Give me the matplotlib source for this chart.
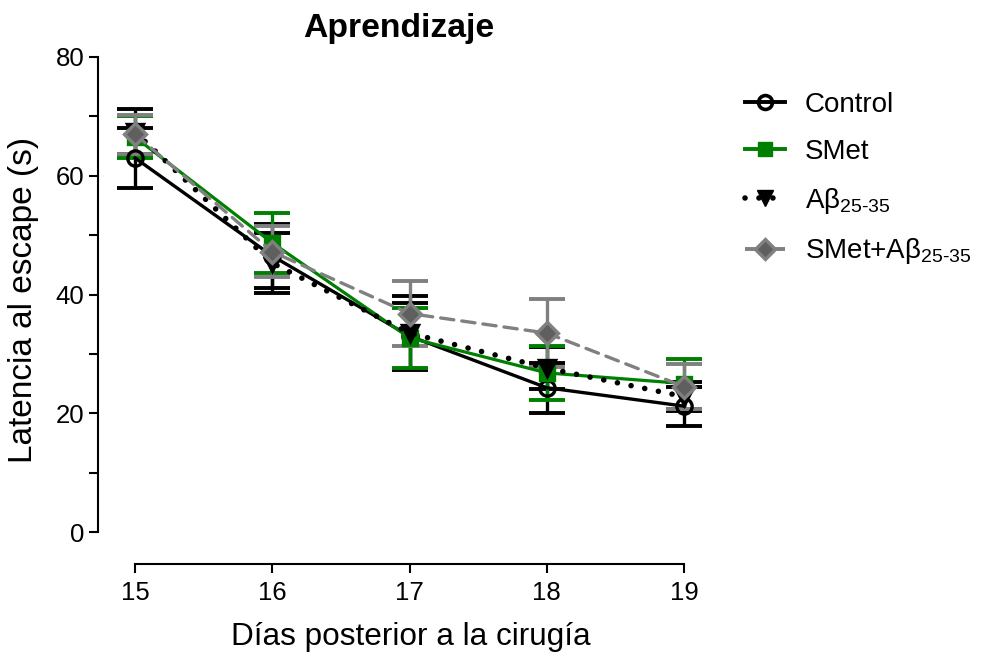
import matplotlib
matplotlib.use("Agg")
import matplotlib.pyplot as plt
from matplotlib.lines import Line2D
import numpy as np

plt.rcParams['font.family'] = ['Liberation Sans', 'DejaVu Sans']
plt.rcParams['mathtext.fontset'] = 'custom'
plt.rcParams['mathtext.rm'] = 'Liberation Sans'
plt.rcParams['mathtext.it'] = 'Liberation Sans'

# datos (media y EEM)
dias = [15, 16, 17, 18, 19]
control = [63.0, 46.5, 33.0, 24.3, 21.2]
control_err = [5.0, 5.4, 5.5, 4.2, 3.3]
smet = [66.5, 48.7, 32.7, 26.8, 25.0]
smet_err = [3.5, 5.1, 5.0, 4.5, 4.2]
abeta = [67.4, 45.3, 33.5, 27.6, 22.8]
abeta_err = [3.8, 5.0, 6.2, 3.5, 2.5]
smet_abeta = [67.0, 47.2, 36.8, 33.5, 24.5]
smet_abeta_err = [3.3, 4.3, 5.4, 5.7, 3.8]

etiquetas = ['Control', 'SMet', r'A$\mathrm{\beta}_{\mathrm{25\text{-}35}}$',
             r'SMet+A$\mathrm{\beta}_{\mathrm{25\text{-}35}}$']

verde = '#008000'
gris = '#808080'
gris_osc = '#5f5f5f'

fig = plt.figure(figsize=(9.82, 6.53), dpi=100)
ax = fig.add_axes([135/982, 1-532/653, 549/982, 475/653])

def serie(y, err, color, marker, ms, mfc, mec, lw, z_err, z, dashes=None):
    ax.errorbar(dias, y, yerr=err, fmt='none', ecolor=color, elinewidth=2.4,
                capsize=13, capthick=2.8, zorder=z_err, clip_on=False)
    ln, = ax.plot(dias, y, color=color, lw=lw, marker=marker,
                  ms=ms, mfc=mfc, mec=mec, mew=2.4, zorder=z, clip_on=False)
    if dashes is not None:
        ln.set_dashes(dashes)
        ln.set_dash_capstyle('round')
    return ln

serie(control, control_err, 'black', 'o', 11, 'none', 'black', 2.4, 1, 3)
serie(smet, smet_err, verde, 's', 10.5, verde, verde, 2.3, 2, 4)
serie(abeta, abeta_err, 'black', 'v', 12, 'black', 'black', 4.0, 1.5, 5,
      dashes=(0.01, 2.5))
serie(smet_abeta, smet_abeta_err, gris, 'D', 11, gris_osc, gris, 2.4, 2.5, 6,
      dashes=(4, 2.4))

ax.set_xlim(15, 19)
ax.set_ylim(0, 80)
for s in ['top', 'right']:
    ax.spines[s].set_visible(False)
ax.spines['left'].set_position(('outward', 26.6))
ax.spines['bottom'].set_position(('outward', 23))
ax.spines['left'].set_bounds(0, 80)
ax.spines['bottom'].set_bounds(15, 19)
ax.spines['left'].set_linewidth(1.5)
ax.spines['bottom'].set_linewidth(1.5)

ax.set_xticks(dias)
ax.set_yticks([0, 20, 40, 60, 80])
ax.set_yticks([10, 30, 50, 70], minor=True)
ax.tick_params(axis='both', which='both', length=6.5, width=1.5, labelsize=18.5)
ax.tick_params(axis='y', pad=3.5)
ax.tick_params(axis='x', pad=6)

fig.text(399/982, 1-37/653, 'Aprendizaje', fontsize=24.3, fontweight='bold',
         ha='center', va='baseline')
fig.text(411/982, 1-645/653, 'Días posterior a la cirugía', fontsize=22.7,
         ha='center', va='baseline')
fig.text(24/982, 1-300/653, 'Latencia al escape (s)', fontsize=24,
         rotation=90, ha='center', va='center')

h1 = Line2D([], [], color='black', lw=2.8, marker='o', ms=10, mfc='none', mec='black', mew=2.6)
h2 = Line2D([], [], color=verde, lw=2.8, marker='s', ms=10, mfc=verde, mec=verde)
h3 = Line2D([], [], color='black', lw=4.0, marker='v', ms=11, mfc='black', mec='black')
h3.set_dashes((0.01, 2.5))
h3.set_dash_capstyle('round')
h4 = Line2D([], [], color=gris, lw=2.8, marker='D', ms=10, mfc=gris_osc, mec=gris, mew=2.4)
h4.set_dashes((4, 2.4))

fig.legend([h1, h2, h3, h4], etiquetas, loc='upper left',
           bbox_to_anchor=(745/982, 1-92/653), frameon=False, fontsize=20,
           handlelength=1.45, handletextpad=0.7, labelspacing=0.75,
           borderaxespad=0, borderpad=0)

fig.savefig('out.png', dpi=100)
